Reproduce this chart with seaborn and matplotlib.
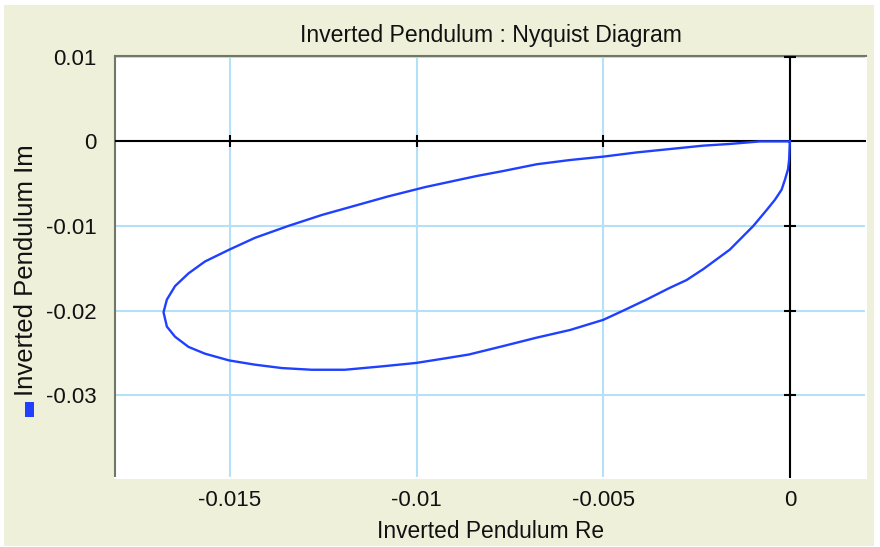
import matplotlib
matplotlib.use("Agg")
import matplotlib.pyplot as plt
import seaborn as sns
import pandas as pd
from matplotlib.patches import Rectangle

# ---- data ----
re_vals = [0.0, -0.00002, -0.00005, -0.00013, -0.00022, -0.0004, -0.00062, -0.00098,
           -0.00125, -0.00161, -0.00232, -0.00277, -0.00321, -0.00384, -0.00446, -0.0050,
           -0.00589, -0.00678, -0.00768, -0.0086, -0.0093, -0.01002, -0.01093, -0.01192,
           -0.01281, -0.01361, -0.01433, -0.01502, -0.01567, -0.01611, -0.01647, -0.01669,
           -0.01678, -0.01669, -0.01647, -0.01611, -0.01567, -0.01502, -0.01433, -0.01344,
           -0.01254, -0.01165, -0.01076, -0.00977, -0.0084, -0.00768, -0.00678, -0.00589,
           -0.0050, -0.0041, -0.00321, -0.00232, -0.00161, -0.0008, 0.0]
im_vals = [0.0, -0.0022, -0.0033, -0.0045, -0.0057, -0.0069, -0.0081, -0.0100,
           -0.0112, -0.0128, -0.0151, -0.0164, -0.0173, -0.0187, -0.0200, -0.0211,
           -0.0223, -0.0232, -0.0242, -0.0252, -0.0257, -0.0262, -0.0266, -0.0270,
           -0.0270, -0.0268, -0.0264, -0.0259, -0.0251, -0.0243, -0.0231, -0.0219,
           -0.0202, -0.0187, -0.0171, -0.0156, -0.0142, -0.0128, -0.0114, -0.0100,
           -0.0087, -0.0076, -0.0065, -0.0054, -0.0041, -0.0035, -0.0027, -0.0022,
           -0.0018, -0.0013, -0.0009, -0.0005, -0.0003, 0.0, 0.0]
x_ticks = [-0.015, -0.01, -0.005, 0.0]
x_tick_labels = ["-0.015", "-0.01", "-0.005", "0"]
y_ticks = [0.01, 0.0, -0.01, -0.02, -0.03]
y_tick_labels = ["0.01", "0", "-0.01", "-0.02", "-0.03"]
title = "Inverted Pendulum : Nyquist Diagram"
x_label = "Inverted Pendulum Re"
y_label = "Inverted Pendulum Im"

LINE_COLOR = "#2040FF"
GRID_COLOR = "#B4E1F7"
BG_COLOR = "#EEF0DA"

sns.set_theme(style="white")
plt.rcParams["font.family"] = ["Liberation Sans", "DejaVu Sans"]

W, H = 880, 547
fig = plt.figure(figsize=(W / 100, H / 100), dpi=100)
fig.patch.set_facecolor("white")
fig.patches.append(Rectangle((4 / W, 1 / H), 870 / W, 541 / H, transform=fig.transFigure,
                             facecolor=BG_COLOR, edgecolor="none", zorder=-10))

ax = fig.add_axes([115 / W, 1 - 478 / H, (866 - 115) / W, (478 - 56) / H])
ax.set_zorder(1)
ax.set_facecolor("white")

df = pd.DataFrame({"Re": re_vals, "Im": im_vals})
sns.lineplot(data=df, x="Re", y="Im", sort=False, estimator=None, ax=ax,
             color=LINE_COLOR, linewidth=1.7, zorder=5)

ax.set_xlim(-0.01808, 0.00204)
ax.set_ylim(-0.0398, 0.0101)
ax.set_xticks(x_ticks)
ax.set_xticklabels(x_tick_labels)
ax.set_yticks(y_ticks)
ax.set_yticklabels(y_tick_labels)
ax.grid(True, color=GRID_COLOR, linewidth=1.5, zorder=1)
ax.set_axisbelow(True)
ax.tick_params(axis="both", length=0, labelsize=16, colors="#111111")
ax.tick_params(axis="x", pad=9)
ax.tick_params(axis="y", pad=13)
ax.set_xlabel("")
ax.set_ylabel("")

# main axes (black) with cross ticks
ax.axhline(0, color="black", linewidth=1.5, zorder=3)
ax.axvline(0, color="black", linewidth=1.5, zorder=3)
ax.plot([t for t in x_ticks if t != 0], [0] * 3, linestyle="none", marker="|",
        markersize=9, markeredgewidth=1.5, color="black", zorder=4, clip_on=False)
ax.plot([0] * 4, [t for t in y_ticks if t != 0], linestyle="none", marker="_",
        markersize=9, markeredgewidth=1.5, color="black", zorder=4, clip_on=False)

# 3D-ish border
for side in ("left", "top"):
    ax.spines[side].set_color("#6E7866")
    ax.spines[side].set_linewidth(1.5)
for side in ("right", "bottom"):
    ax.spines[side].set_color("white")
    ax.spines[side].set_linewidth(1.5)

ax.set_title(title, fontsize=16.6, pad=10, color="#111111")
fig.text(490.5 / W, 1 - 531 / H, x_label, ha="center", va="center", fontsize=16.4, color="#111111")
fig.text(26 / W, 1 - 270 / H, y_label, ha="center", va="center", rotation=90,
         fontsize=18.5, color="#111111")
fig.patches.append(Rectangle((25 / W, 1 - 417 / H), 9 / W, 15 / H, transform=fig.transFigure,
                             facecolor=LINE_COLOR, edgecolor="none", zorder=2))

fig.savefig("out.png", dpi=100, facecolor=fig.get_facecolor())
